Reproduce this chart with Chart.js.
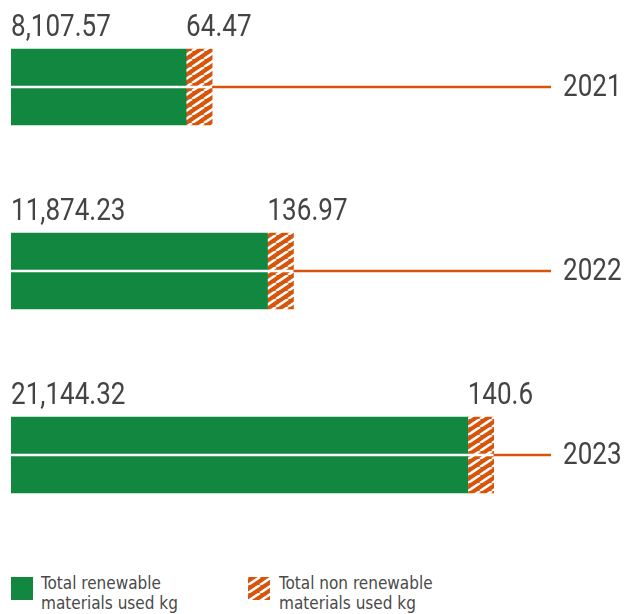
<!DOCTYPE html>
<html>
<head>
<meta charset="utf-8">
<script src="https://cdn.jsdelivr.net/npm/chart.js@4/dist/chart.umd.min.js"></script>
<style>
  html, body { margin: 0; padding: 0; background: #ffffff; width: 625px; height: 614px; overflow: hidden; }
  #wrap { position: absolute; left: 0; top: -5px; width: 625px; height: 552px; }
  .legend { position: absolute; top: 573px; font-family: "DejaVu Sans Condensed", "Roboto", sans-serif; font-size: 17px; line-height: 20px; color: #4a4a4a; }
  .sw { position: absolute; top: 577px; width: 22px; height: 23px; }
</style>
</head>
<body>
<div id="wrap"><canvas id="c" width="625" height="552"></canvas></div>
<div class="sw" style="left:11px;background:#11873f;"></div>
<canvas class="sw" id="sw2" width="22" height="23" style="left:248px;"></canvas>
<div class="legend" id="lg1" style="left:41px;"></div>
<div class="legend" id="lg2" style="left:279px;"></div>
<script>
const years = ["2021", "2022", "2023"];
const renewable = [8107.57, 11874.23, 21144.32];
const nonRenewable = [64.47, 136.97, 140.6];
const seriesNames = ["Total renewable\nmaterials used kg", "Total non renewable\nmaterials used kg"];

const GREEN = "#11873f";
const ORANGE = "#d8540b";
const TEXT = "#444444";
const FONT = 'Roboto, "DejaVu Sans Condensed", sans-serif';
const SQUEEZE = 0.84;

function makeHatch() {
  const w = 12, h = 8;
  const t = document.createElement("canvas");
  t.width = w; t.height = h;
  const c = t.getContext("2d");
  c.fillStyle = ORANGE;
  c.fillRect(0, 0, w, h);
  c.strokeStyle = "#ffffff";
  c.lineWidth = 2.6;
  for (let k = -1; k <= 1; k++) {
    c.beginPath();
    c.moveTo(k * w, h);
    c.lineTo(k * w + w, 0);
    c.stroke();
  }
  return t;
}

const fmt = v => v.toLocaleString("en-US", { maximumFractionDigits: 2 });

function squeezedText(c, txt, x, y) {
  c.save();
  c.translate(x, y);
  c.scale(SQUEEZE, 1);
  c.fillText(txt, 0, 0);
  c.restore();
}

function build() {
  const hatchTile = makeHatch();
  const ctx = document.getElementById("c").getContext("2d");
  const hatch = ctx.createPattern(hatchTile, "repeat");

  document.getElementById("lg1").innerHTML = seriesNames[0].replace("\n", "<br>");
  document.getElementById("lg2").innerHTML = seriesNames[1].replace("\n", "<br>");
  const sw2 = document.getElementById("sw2").getContext("2d");
  sw2.fillStyle = sw2.createPattern(hatchTile, "repeat");
  sw2.fillRect(0, 0, 22, 23);

  const overlay = {
    id: "overlay",
    afterDatasetsDraw(chart) {
      const c = chart.ctx;
      const area = chart.chartArea;
      const yScale = chart.scales.y;
      const m0 = chart.getDatasetMeta(0);
      const m1 = chart.getDatasetMeta(1);
      c.save();
      years.forEach((y, i) => {
        const g = m0.data[i];
        const hb = m1.data[i];
        const top = g.y - g.height / 2;
        c.strokeStyle = "#ffffff";
        c.lineWidth = 2.6;
        c.beginPath();
        c.moveTo(area.left, g.y);
        c.lineTo(hb.x, g.y);
        c.stroke();
        c.strokeStyle = ORANGE;
        c.lineWidth = 2.6;
        c.beginPath();
        c.moveTo(hb.x, g.y);
        c.lineTo(area.right, g.y);
        c.stroke();
        c.fillStyle = TEXT;
        c.font = "31px " + FONT;
        c.textAlign = "left";
        c.textBaseline = "alphabetic";
        squeezedText(c, fmt(renewable[i]), g.base, top - 13);
        squeezedText(c, fmt(nonRenewable[i]), hb.base, top - 13);
        // year label (category tick) right of the connector
        c.textBaseline = "middle";
        squeezedText(c, yScale.getLabelForValue(i), area.right + 12, yScale.getPixelForTick(i) + 1);
      });
      c.restore();
    }
  };

  new Chart(ctx, {
    type: "bar",
    data: {
      labels: years,
      datasets: [
        { label: seriesNames[0], data: renewable, backgroundColor: GREEN, barThickness: 76, borderWidth: 0 },
        { label: seriesNames[1], data: nonRenewable, backgroundColor: hatch, barThickness: 76, borderWidth: 0, minBarLength: 26 }
      ]
    },
    options: {
      indexAxis: "y",
      responsive: false,
      animation: false,
      layout: { padding: { left: 11, top: 0, bottom: 0, right: 0 } },
      plugins: { legend: { display: false }, tooltip: { enabled: false } },
      scales: {
        x: { display: false, stacked: true, min: 0, max: 25000 },
        y: {
          position: "right",
          stacked: true,
          grid: { display: false, drawTicks: false },
          border: { display: false },
          ticks: { display: false },
          afterFit(scale) { scale.width = 74; scale.paddingTop = 0; scale.paddingBottom = 0; }
        }
      }
    },
    plugins: [overlay]
  });
}

Promise.all([
  document.fonts.load('31px Roboto'),
  document.fonts.load('17px "DejaVu Sans Condensed"')
]).then(build, build);
</script>
</body>
</html>
